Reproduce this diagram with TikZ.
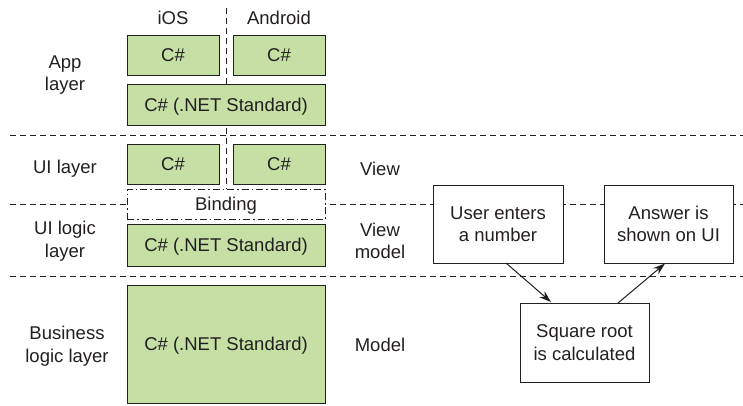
\documentclass[tikz,border=0pt]{standalone}
\usepackage{fontspec}
\setmainfont{Liberation Sans}
\usetikzlibrary{arrows.meta}
\definecolor{boxgreen}{HTML}{C5DFA5}
\definecolor{ink}{HTML}{231F20}
\begin{document}
\begin{tikzpicture}[x=1pt,y=-1pt,
  every node/.style={font=\fontsize{18.5}{22.5}\selectfont, text=ink, align=center},
  lbl/.style={yshift=-2pt},
  gbox/.style={draw=ink, line width=1pt, fill=boxgreen, inner sep=0pt, text depth=0pt},
  wbox/.style={draw=ink, line width=1pt, fill=white, inner sep=0pt},
  sep/.style={draw=ink, line width=0.9pt, dash pattern=on 6pt off 4pt},
  bindbox/.style={draw=ink, line width=0.9pt, fill=white, dash pattern=on 7pt off 3pt on 1.5pt off 3pt, inner sep=0pt},
  arr/.style={draw=ink, line width=1pt, -{Stealth[length=12pt,width=8pt]}}
]
\useasboundingbox (0,0) rectangle (743,405);
% separators
\coordinate (l1a) at (10,135); \coordinate (l1b) at (743,135);
\coordinate (l2a) at (10,204); \coordinate (l2b) at (743,204);
\coordinate (l3a) at (10,276); \coordinate (l3b) at (743,276);
\coordinate (va) at (226,8); \coordinate (vb) at (226,189);
\draw[sep] (l1a) -- (l1b);
\draw[sep] (l2a) -- (l2b);
\draw[sep] (l3a) -- (l3b);
\draw[sep] (va) -- (vb);
% headers
\node[lbl] (ios) at (173,16) {iOS};
\node[lbl] (android) at (279,16) {Android};
% left labels
\node[lbl] (app) at (65,73) {App\\layer};
\node[lbl] (uil) at (65,167) {UI layer};
\node[lbl] (uill) at (65,239) {UI logic\\layer};
\node[lbl] (bll) at (67,344) {Business\\logic layer};
% right labels
\node[lbl] (view) at (380,167) {View};
\node[lbl] (vm) at (380,239) {View\\model};
\node[lbl] (model) at (380,343) {Model};
% green boxes
\node[gbox, minimum width=92pt, minimum height=40pt] (iosapp) at (173,55) {C\#};
\node[gbox, minimum width=92pt, minimum height=40pt] (andapp) at (279,55) {C\#};
\node[gbox, minimum width=198pt, minimum height=41pt] (netapp) at (226,104.5) {C\# (.NET Standard)};
\node[gbox, minimum width=92pt, minimum height=40pt] (iosui) at (173,164) {C\#};
\node[gbox, minimum width=92pt, minimum height=40pt] (andui) at (279,164) {C\#};
\node[bindbox, minimum width=198pt, minimum height=30pt, text depth=0pt] (bind) at (226,204) {Binding};
\node[gbox, minimum width=198pt, minimum height=42pt] (netvm) at (226,245) {C\# (.NET Standard)};
\node[gbox, minimum width=198pt, minimum height=118pt] (netm) at (226,344) {C\# (.NET Standard)};
% flow
\node[wbox, minimum width=130pt, minimum height=78pt] (user) at (498,224) {User enters\\a number};
\node[wbox, minimum width=129pt, minimum height=78pt] (answer) at (668.5,224) {Answer is\\shown on UI};
\node[wbox, minimum width=129pt, minimum height=79pt] (sq) at (584.5,342.5) {Square root\\is calculated};
\coordinate (a1s) at (506,263); \coordinate (a1e) at (551,302);
\coordinate (a2s) at (618,303); \coordinate (a2e) at (665,263.5);
\draw[arr] (a1s) -- (a1e);
\draw[arr] (a2s) -- (a2e);
\end{tikzpicture}
\end{document}
